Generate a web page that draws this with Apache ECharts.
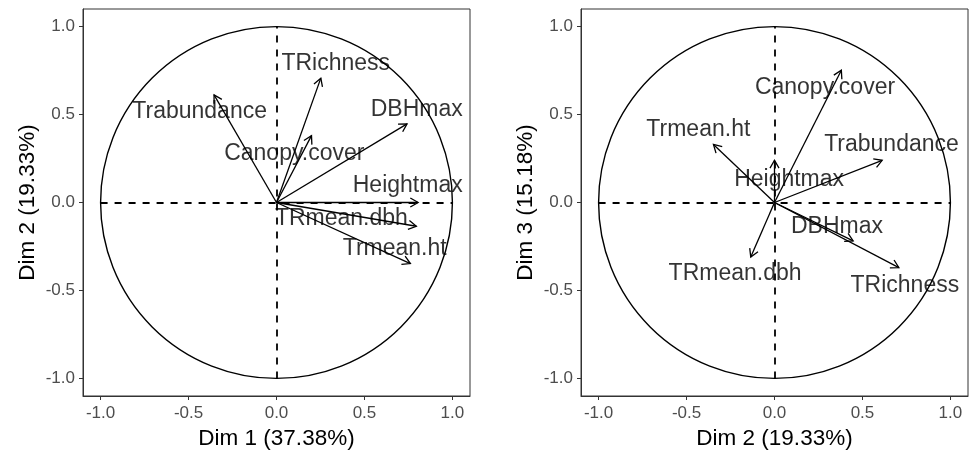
<!DOCTYPE html>
<html>
<head>
<meta charset="utf-8">
<script src="https://cdn.jsdelivr.net/npm/echarts@6/dist/echarts.min.js"></script>
<style>
  html, body { margin: 0; padding: 0; background: #fff; }
  #pca { width: 971px; height: 452px; }
</style>
</head>
<body>
<div id="pca"></div>
<script>
// variables, same order in every array
var varNames = ['Heightmax', 'TRmean.dbh', 'Trmean.ht', 'DBHmax', 'TRichness', 'Canopy.cover', 'Trabundance'];
// coordinates (correlations)
var dim1 = [0.805, 0.795, 0.761, 0.742, 0.252, 0.199, -0.355];
var dim2 = [0.000, -0.135, -0.347, 0.447, 0.707, 0.380, 0.612];
var dim3 = [0.240, -0.310, 0.330, -0.218, -0.370, 0.752, 0.240];
// where the text labels sit (repelled a bit from the tips)
var lab12x = [0.746, 0.369, 0.672, 0.797, 0.337, 0.101, -0.437];
var lab12y = [0.098, -0.091, -0.261, 0.528, 0.790, 0.278, 0.515];
var lab23x = [0.083, -0.224, -0.433, 0.355, 0.741, 0.287, 0.665];
var lab23y = [0.131, -0.403, 0.415, -0.135, -0.470, 0.651, 0.326];

var tickVals = [-1, -0.5, 0, 0.5, 1];
var axisNames = ['Dim 1 (37.38%)', 'Dim 2 (19.33%)', 'Dim 2 (19.33%)', 'Dim 3 (15.18%)'];

var FONT = '"Liberation Sans", Arial, sans-serif';

function pairs(a, b) {
    return a.map(function (v, i) { return [v, b[i]]; });
}

function labelData(a, b) {
    return a.map(function (v, i) { return { value: [v, b[i]], name: varNames[i] }; });
}

function makeAxis(name, idx, isY) {
    return {
        type: 'value',
        gridIndex: idx,
        min: -1.1,
        max: 1.1,
        name: name,
        nameLocation: 'middle',
        nameGap: isY ? 44 : 28,
        nameTextStyle: { color: '#000', fontSize: 22.5, fontFamily: FONT },
        axisLine: { show: true, onZero: false, lineStyle: { color: '#333', width: 1 } },
        axisTick: { show: true, length: 4, customValues: tickVals, lineStyle: { color: '#333' } },
        axisLabel: {
            customValues: tickVals,
            margin: isY ? 8 : 9,
            color: '#4d4d4d',
            fontSize: 17,
            fontFamily: FONT,
            formatter: function (v) { return v.toFixed(1); }
        },
        splitLine: { show: false }
    };
}

function arrowSeries(idx, pts) {
    return {
        type: 'custom',
        xAxisIndex: idx,
        yAxisIndex: idx,
        encode: { x: 0, y: 1 },
        silent: true,
        z: 3,
        data: pts,
        renderItem: function (params, api) {
            var p0 = api.coord([0, 0]);
            var p1 = api.coord([api.value(0), api.value(1)]);
            var ang = Math.atan2(p1[1] - p0[1], p1[0] - p0[0]);
            var len = 9, spread = Math.PI / 6;
            var a = [p1[0] - len * Math.cos(ang - spread), p1[1] - len * Math.sin(ang - spread)];
            var b = [p1[0] - len * Math.cos(ang + spread), p1[1] - len * Math.sin(ang + spread)];
            var st = { stroke: '#000', lineWidth: 1.3, fill: null };
            return {
                type: 'group',
                children: [
                    { type: 'line', shape: { x1: p0[0], y1: p0[1], x2: p1[0], y2: p1[1] }, style: st },
                    { type: 'polyline', shape: { points: [a, p1, b] }, style: st }
                ]
            };
        }
    };
}

function circleSeries(idx) {
    return {
        type: 'custom',
        xAxisIndex: idx,
        yAxisIndex: idx,
        encode: { x: 0, y: 1 },
        silent: true,
        z: 2,
        data: [[0, 0, 1]],
        renderItem: function (params, api) {
            var c = api.coord([api.value(0), api.value(1)]);
            var r = api.size([api.value(2), api.value(2)])[0];
            return {
                type: 'circle',
                shape: { cx: c[0], cy: c[1], r: r },
                style: { stroke: '#000', lineWidth: 1.4, fill: null }
            };
        },
        markLine: {
            silent: true,
            symbol: 'none',
            label: { show: false },
            lineStyle: { color: '#000', width: 1.8, type: [7, 7] },
            data: [
                [{ coord: [-1, 0] }, { coord: [1, 0] }],
                [{ coord: [0, -1] }, { coord: [0, 1] }]
            ]
        }
    };
}

function labelSeries(idx, data) {
    return {
        type: 'scatter',
        xAxisIndex: idx,
        yAxisIndex: idx,
        symbolSize: 0,
        silent: true,
        z: 4,
        data: data,
        label: {
            show: true,
            position: 'inside',
            formatter: '{b}',
            color: '#000',
            fontSize: 23,
            fontFamily: FONT
        }
    };
}

var chart = echarts.init(document.getElementById('pca'));
chart.setOption({
    animation: false,
    backgroundColor: '#fff',
    grid: [
        { left: 83, top: 9, width: 387, height: 387, show: true, borderColor: '#333', borderWidth: 1, outerBoundsMode: 'none' },
        { left: 581, top: 9, width: 387, height: 387, show: true, borderColor: '#333', borderWidth: 1, outerBoundsMode: 'none' }
    ],
    xAxis: [makeAxis(axisNames[0], 0, false), makeAxis(axisNames[2], 1, false)],
    yAxis: [makeAxis(axisNames[1], 0, true), makeAxis(axisNames[3], 1, true)],
    series: [
        circleSeries(0),
        arrowSeries(0, pairs(dim1, dim2)),
        labelSeries(0, labelData(lab12x, lab12y)),
        circleSeries(1),
        arrowSeries(1, pairs(dim2, dim3)),
        labelSeries(1, labelData(lab23x, lab23y))
    ]
});

window.addEventListener('resize', function () {
    chart.resize();
});
</script>
</body>
</html>
